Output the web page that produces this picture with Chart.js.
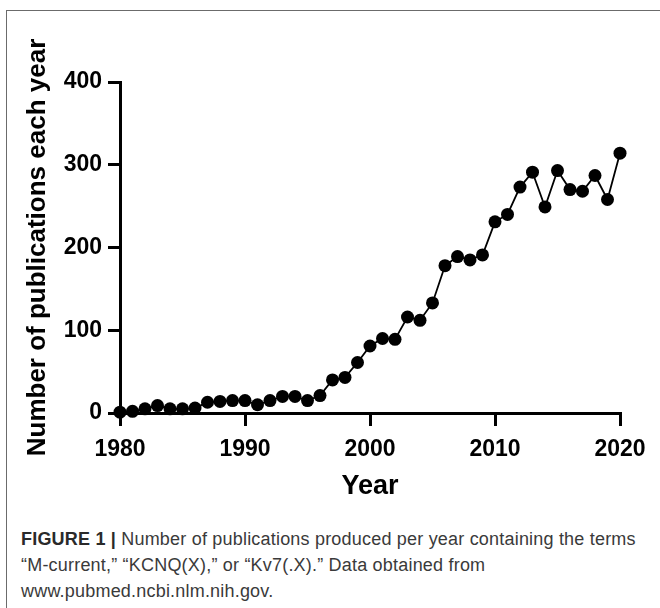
<!DOCTYPE html>
<html lang="en">

<head>
    <meta charset="UTF-8">
    <title>Publications per year</title>
    <style>
        body {
            margin: 0;
            background: #fff;
        }

        .frame {
            position: absolute;
            left: 6px;
            top: 10px;
            width: 660px;
            height: 610px;
            border-left: 1.5px solid #6b6b6b;
            border-top: 1.5px solid #6b6b6b;
        }

        .plot {
            position: absolute;
            left: 0;
            top: 0;
            width: 660px;
            height: 520px;
        }

        .caption {
            position: absolute;
            left: 21px;
            top: 526px;
            width: 630px;
            font-family: "Liberation Sans", Arial, sans-serif;
            font-size: 18px;
            letter-spacing: 0.2px;
            line-height: 26px;
            color: #3a3a3a;
            white-space: nowrap;
        }

        .caption b {
            color: #2a2a2a;
        }
    </style>
</head>

<body>
    <div class="frame"></div>
    <div class="plot">
        <canvas id="pubChart" width="660" height="520"></canvas>
    </div>
    <div class="caption">
        <b>FIGURE 1 |</b> Number of publications produced per year containing the terms<br>
        “M-current,” “KCNQ(X),” or “Kv7(.X).” Data obtained from<br>
        www.pubmed.ncbi.nlm.nih.gov.
    </div>

    <script src="https://cdn.jsdelivr.net/npm/chart.js@4.4.0/dist/chart.umd.min.js"></script>
    <script>
        // values
        var years = [1980, 1981, 1982, 1983, 1984, 1985, 1986, 1987, 1988, 1989,
            1990, 1991, 1992, 1993, 1994, 1995, 1996, 1997, 1998, 1999,
            2000, 2001, 2002, 2003, 2004, 2005, 2006, 2007, 2008, 2009,
            2010, 2011, 2012, 2013, 2014, 2015, 2016, 2017, 2018, 2019, 2020];
        var pubs = [1, 2, 5, 9, 5, 5, 6, 13, 14, 15,
            15, 10, 15, 20, 20, 15, 21, 40, 43, 61,
            81, 90, 89, 116, 112, 133, 178, 189, 185, 191,
            231, 240, 273, 291, 249, 293, 270, 268, 287, 258, 314];
        var xTicks = [1980, 1990, 2000, 2010, 2020];
        var yTicks = [0, 100, 200, 300, 400];

        var fontFam = '"Liberation Sans", Arial, sans-serif';

        var points = years.map(function(yr, i) {
            return { x: yr, y: pubs[i] };
        });

        var ctx = document.getElementById('pubChart').getContext('2d');
        var pubChart = new Chart(ctx, {
            type: 'line',
            data: {
                datasets: [{
                    data: points,
                    borderColor: '#000',
                    borderWidth: 1.8,
                    backgroundColor: '#000',
                    pointBackgroundColor: '#000',
                    pointBorderColor: '#000',
                    pointRadius: 6.5,
                    pointBorderWidth: 0,
                    tension: 0,
                    clip: false
                }]
            },
            options: {
                responsive: false,
                animation: false,
                events: [],
                layout: {
                    padding: { top: 82, right: 40, bottom: 0, left: 0 }
                },
                plugins: {
                    legend: { display: false },
                    tooltip: { enabled: false }
                },
                scales: {
                    x: {
                        type: 'linear',
                        min: xTicks[0],
                        max: xTicks[xTicks.length - 1],
                        afterBuildTicks: function(scale) {
                            scale.ticks = xTicks.map(function(v) { return { value: v }; });
                        },
                        afterFit: function(scale) {
                            scale.height = 107;
                        },
                        border: { display: true, color: '#000', width: 3 },
                        grid: {
                            display: true,
                            drawOnChartArea: false,
                            drawTicks: true,
                            tickLength: 13,
                            color: '#000',
                            lineWidth: 3
                        },
                        ticks: {
                            color: '#000',
                            padding: 10,
                            maxRotation: 0,
                            font: { family: fontFam, size: 23, weight: 'bold' },
                            callback: function(v) { return String(v); }
                        },
                        title: {
                            display: true,
                            text: 'Year',
                            color: '#000',
                            font: { family: fontFam, size: 27, weight: 'bold' },
                            padding: { top: 0, bottom: 17 }
                        }
                    },
                    y: {
                        min: yTicks[0],
                        max: yTicks[yTicks.length - 1],
                        afterBuildTicks: function(scale) {
                            scale.ticks = yTicks.map(function(v) { return { value: v }; });
                        },
                        afterFit: function(scale) {
                            scale.width = 120;
                        },
                        border: { display: true, color: '#000', width: 3 },
                        grid: {
                            display: true,
                            drawOnChartArea: false,
                            drawTicks: true,
                            tickLength: 12,
                            color: '#000',
                            lineWidth: 3
                        },
                        ticks: {
                            color: '#000',
                            padding: 6,
                            font: { family: fontFam, size: 23, weight: 'bold' }
                        },
                        title: {
                            display: true,
                            text: 'Number of publications each year',
                            color: '#000',
                            font: { family: fontFam, size: 26, weight: 'bold' },
                            padding: { top: 22, bottom: 0 }
                        }
                    }
                }
            }
        });
    </script>

</body>

</html>
